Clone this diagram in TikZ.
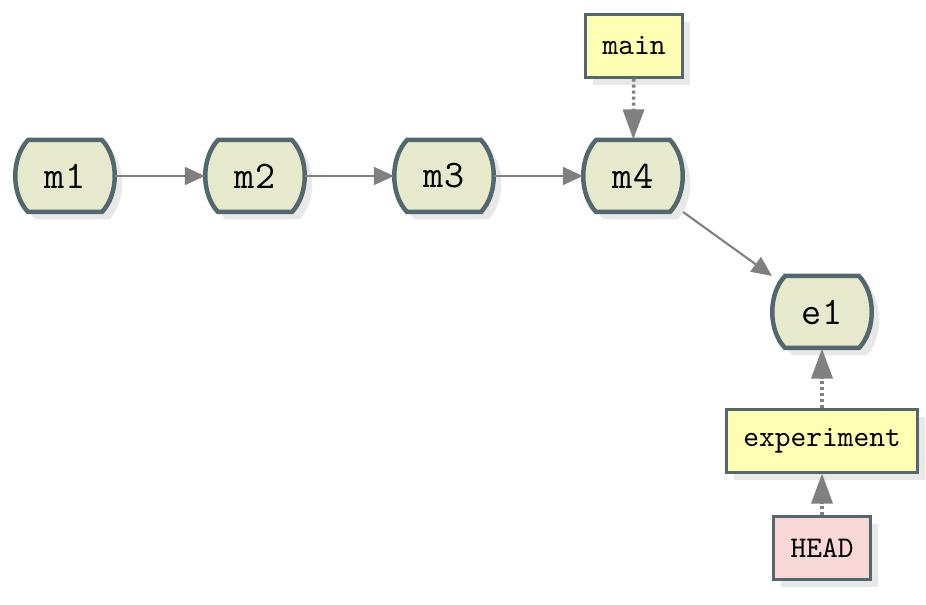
\documentclass[tikz,border=0pt]{standalone}
\usepackage{tikz}
\usetikzlibrary{arrows.meta,shadows}
\definecolor{commitfill}{HTML}{E6E9CB}
\definecolor{commitline}{HTML}{53686E}
\definecolor{reffill}{HTML}{FFFFB3}
\definecolor{headfill}{HTML}{F8D7D7}
\definecolor{shadowgray}{HTML}{E8E8E8}
\definecolor{edgegray}{HTML}{808080}
\newcommand{\commitoutline}{(-37,36) -- (37,36) .. controls (54,18) and (54,-18) .. (37,-36) -- (-37,-36) .. controls (-54,-18) and (-54,18) .. (-37,36) -- cycle}

\begin{document}
\begin{tikzpicture}[x=0.3333pt,y=0.3333pt,
        softshadow/.style={drop shadow={shadow xshift=2.5pt,shadow yshift=-2.5pt,fill=shadowgray,opacity=1}},
        commitshape/.style={draw=commitline,fill=commitfill,line width=1.5pt,softshadow},
        commit/.style={minimum width=33pt,minimum height=24pt,inner sep=0pt,font=\fontsize{13}{15}\selectfont\ttfamily},
        ref/.style={draw=commitline,fill=reffill,line width=1pt,softshadow,minimum width=31.7pt,minimum height=20.7pt,inner xsep=5.6pt,font=\ttfamily},
        edge/.style={draw=edgegray,line width=0.7pt,-{Triangle[length=6.7pt,width=6pt]}},
        refedge/.style={draw=edgegray,line width=1.2pt,dash pattern=on 1pt off 1pt,-{Triangle[length=10pt,width=7pt]}}]
        \useasboundingbox (0,0) rectangle (926,604);

        \foreach \name/\x/\y in {m1/65/428, m2/255/428, m3/444/428, m4/633/428, e1/822/292} {
            \path[commitshape,shift={(\x,\y)}] \commitoutline;
            \node[commit] (\name) at (\x,\y) {\name};
        }

        \node[ref] (main) at (634,558) {main};
        \node[ref] (experiment) at (822,163) {experiment};
        \node[ref,fill=headfill] (HEAD) at (822,56) {HEAD};

        \draw[edge] (m1) -- (m2);
        \draw[edge] (m2) -- (m3);
        \draw[edge] (m3) -- (m4);
        \draw[edge] (m4) -- (e1);

        \draw[refedge] (main) -- (m4);
        \draw[refedge] (experiment) -- (e1);
        \draw[refedge] (HEAD) -- (experiment);
\end{tikzpicture}
\end{document}
